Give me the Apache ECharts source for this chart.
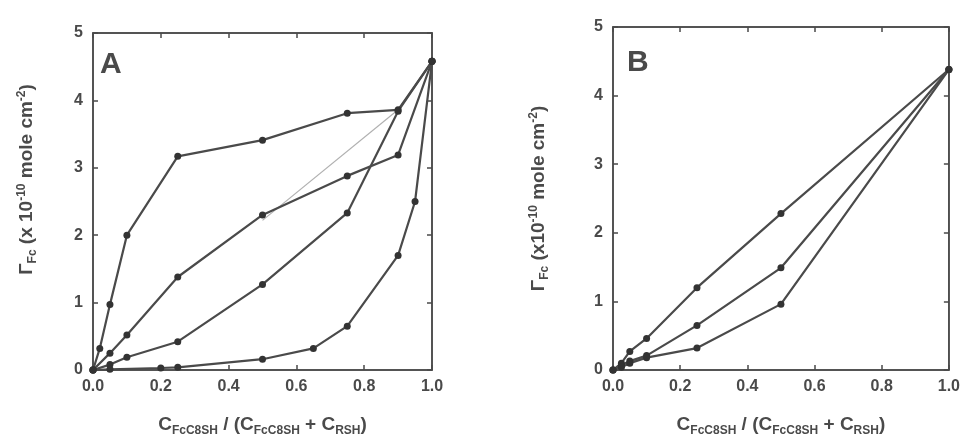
<!DOCTYPE html>
<html><head><meta charset="utf-8">
<script src="https://cdn.jsdelivr.net/npm/echarts@6/dist/echarts.min.js"></script>
<style>html,body{margin:0;padding:0;background:#fff}#c{width:963px;height:446px}</style>
</head><body><div id="c"></div>
<script>
// Panel A data
const aX1 = [0, 0.02, 0.05, 0.1, 0.25, 0.5, 0.75, 0.9, 1.0];
const aY1 = [0, 0.32, 0.97, 2.0, 3.17, 3.41, 3.81, 3.86, 4.58];
const aX2 = [0, 0.05, 0.1, 0.25, 0.5, 0.75, 0.9, 1.0];
const aY2 = [0, 0.25, 0.52, 1.38, 2.3, 2.88, 3.19, 4.58];
const aX3 = [0.5, 0.9];
const aY3 = [2.22, 3.86];
const aX4 = [0, 0.05, 0.1, 0.25, 0.5, 0.75, 0.9, 1.0];
const aY4 = [0, 0.08, 0.19, 0.42, 1.27, 2.33, 3.84, 4.58];
const aX5 = [0, 0.05, 0.2, 0.25, 0.5, 0.65, 0.75, 0.9, 0.95, 1.0];
const aY5 = [0, 0.01, 0.03, 0.04, 0.16, 0.32, 0.65, 1.7, 2.5, 4.58];
// Panel B data
const bX1 = [0, 0.025, 0.05, 0.1, 0.25, 0.5, 1.0];
const bY1 = [0, 0.1, 0.27, 0.46, 1.2, 2.28, 4.38];
const bX2 = [0, 0.025, 0.05, 0.1, 0.25, 0.5, 1.0];
const bY2 = [0, 0.07, 0.13, 0.21, 0.65, 1.49, 4.38];
const bX3 = [0, 0.025, 0.05, 0.1, 0.25, 0.5, 1.0];
const bY3 = [0, 0.04, 0.1, 0.18, 0.32, 0.96, 4.38];
// Axis ticks
const xTicks = ['0.0', '0.2', '0.4', '0.6', '0.8', '1.0'];
const yTicks = ['0', '1', '2', '3', '4', '5'];
const panelLabels = ['A', 'B'];

const pair = (xs, ys) => xs.map((x, i) => [x, ys[i]]);
const INK = '#4a4a4a';
const FONT = 'Liberation Sans';

function axisPair(gi) {
  const rich = {
    b: {fontSize: 19, fontWeight: 'bold', color: INK, fontFamily: FONT},
    s: {fontSize: 12, fontWeight: 'bold', color: INK, fontFamily: FONT, verticalAlign: 'bottom', padding: [13, 0, 0, 0]},
    p: {fontSize: 12, fontWeight: 'bold', color: INK, fontFamily: FONT, padding: [0, 0, 10, 0]}
  };
  const line = {show: true, onZero: false, lineStyle: {color: INK, width: 1.5}};
  const tick = {show: true, inside: true, length: 5, lineStyle: {color: INK, width: 1.5}};
  const lab = {color: INK, fontSize: 16, fontWeight: 'bold', fontFamily: FONT};
  const xs = [{
    type: 'value', gridIndex: gi, min: 0, max: 1, interval: 0.2,
    axisLine: line, axisTick: tick, splitLine: {show: false},
    axisLabel: Object.assign({margin: 9, formatter: v => xTicks[Math.round(v / 0.2)] || ''}, lab),
    name: '{b|C}{s|FcC8SH}{b| / (C}{s|FcC8SH}{b| + C}{s|RSH}{b|)}',
    nameLocation: 'middle', nameGap: 42,
    nameTextStyle: {rich: rich}
  }, {
    type: 'value', gridIndex: gi, position: 'top', min: 0, max: 1, interval: 0.2,
    axisLine: line, axisTick: tick, axisLabel: {show: false}, splitLine: {show: false}
  }];
  const ys = [{
    type: 'value', gridIndex: gi, min: 0, max: 5, interval: 1,
    axisLine: line, axisTick: tick, splitLine: {show: false},
    axisLabel: Object.assign({margin: 10, formatter: v => yTicks[Math.round(v)] || ''}, lab),
    name: gi === 0 ? '{b|Γ}{s|Fc}{b| (x 10}{p|-10}{b| mole cm}{p|-2}{b|)}'
                   : '{b|Γ}{s|Fc}{b| (x10}{p|-10}{b| mole cm}{p|-2}{b|)}',
    nameLocation: 'middle', nameGap: gi === 0 ? 54 : 62, nameRotate: 90,
    nameTextStyle: {rich: rich, padding: gi === 0 ? [0, 0, 0, 44] : 0}
  }, {
    type: 'value', gridIndex: gi, position: 'right', min: 0, max: 5, interval: 1,
    axisLine: line, axisTick: tick, axisLabel: {show: false}, splitLine: {show: false}
  }];
  return {xs, ys};
}

const A = axisPair(0), B = axisPair(1);

function ser(data, xi, yi, opts) {
  opts = opts || {};
  return {
    type: 'line', xAxisIndex: xi, yAxisIndex: yi, data: data,
    symbol: 'circle', symbolSize: opts.noSym ? 0 : 7, showSymbol: !opts.noSym,
    lineStyle: {color: opts.color || INK, width: opts.width || 2.2},
    itemStyle: {color: '#333'}, z: opts.z || 3, animation: false
  };
}

const option = {
  backgroundColor: '#fff',
  animation: false,
  grid: [
    {left: 93, right: 531, top: 33, bottom: 76, show: true, borderColor: INK, borderWidth: 1.5, backgroundColor: 'transparent'},
    {left: 613, right: 6, top: 27, bottom: 76, show: true, borderColor: INK, borderWidth: 1.5, backgroundColor: 'transparent'}
  ],
  xAxis: [A.xs[0], A.xs[1], B.xs[0], B.xs[1]],
  yAxis: [A.ys[0], A.ys[1], B.ys[0], B.ys[1]],
  graphic: [
    {type: 'text', left: 100, top: 50, style: {text: panelLabels[0], fontSize: 30, fontWeight: 'bold', fill: INK, fontFamily: FONT}},
    {type: 'text', left: 627, top: 48, style: {text: panelLabels[1], fontSize: 30, fontWeight: 'bold', fill: INK, fontFamily: FONT}}
  ],
  series: [
    ser(pair(aX3, aY3), 0, 0, {color: '#b0b0b0', width: 1.2, noSym: true, z: 2}),
    ser(pair(aX1, aY1), 0, 0),
    ser(pair(aX2, aY2), 0, 0),
    ser(pair(aX4, aY4), 0, 0),
    ser(pair(aX5, aY5), 0, 0),
    ser(pair(bX1, bY1), 2, 2),
    ser(pair(bX2, bY2), 2, 2),
    ser(pair(bX3, bY3), 2, 2),
    {type: 'line', xAxisIndex: 1, yAxisIndex: 1, data: [], silent: true},
    {type: 'line', xAxisIndex: 3, yAxisIndex: 3, data: [], silent: true}
  ]
};
const chart = echarts.init(document.getElementById('c'), null, {renderer: 'canvas'});
chart.setOption(option);
</script>
</body></html>
